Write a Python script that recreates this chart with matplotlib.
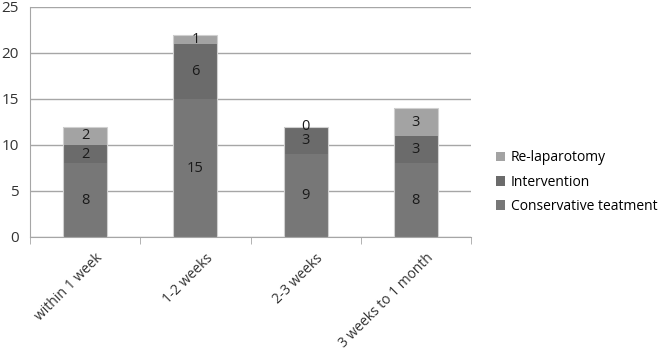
import numpy as np
import matplotlib.pyplot as plt
import matplotlib.transforms as mtransforms

categories = ['within 1 week', '1-2 weeks', '2-3 weeks', '3 weeks to 1 month']
conservative = [8, 15, 9, 8]
intervention = [2, 6, 3, 3]
relaparotomy = [2, 1, 0, 3]

plt.rcParams['font.family'] = ['Open Sans', 'DejaVu Sans']

fig = plt.figure(figsize=(6.66, 3.59), dpi=100)
ax = fig.add_axes([30 / 666, 1 - 237 / 359, 441 / 666, 230 / 359])

x = np.arange(len(categories))
w = 0.4
b1 = ax.bar(x, conservative, w, color='#777777', linewidth=0,
            label='Conservative teatment', zorder=3)
b2 = ax.bar(x, intervention, w, bottom=conservative, color='#6b6b6b',
            linewidth=0, label='Intervention', zorder=3)
bottom2 = np.array(conservative) + np.array(intervention)
b3 = ax.bar(x, relaparotomy, w, bottom=bottom2, color='#a3a3a3',
            linewidth=0, label='Re-laparotomy', zorder=3)
# faint outline round each whole bar
ax.bar(x, bottom2 + np.array(relaparotomy), w, fill=False, edgecolor='#d0d0d0',
       linewidth=0.8, zorder=3.5)

# value labels in the middle of each segment
bottoms = [np.zeros(len(x)), np.array(conservative), bottom2]
for vals, bot in zip([conservative, intervention, relaparotomy], bottoms):
    for xi, v, b in zip(x, vals, bot):
        ax.text(xi, b + v / 2, str(v), ha='center', va='center', fontsize=10.5,
                color='#1a1a1a', zorder=4)

ax.set_xlim(-0.5, len(x) - 0.5)
ax.set_ylim(0, 25)
ax.set_yticks([0, 5, 10, 15, 20, 25])
ax.grid(axis='y', color='#a6a6a6', linewidth=1, zorder=0)
for s in ['top', 'right']:
    ax.spines[s].set_visible(False)
ax.spines['left'].set_color('#a6a6a6')
ax.spines['bottom'].set_color('#a6a6a6')

ax.set_xticks(x)
ax.set_xticklabels(categories, rotation=45, ha='right', rotation_mode='anchor',
                   fontsize=10, color='#333333')
ax.tick_params(axis='x', length=0, pad=10)
shift = mtransforms.ScaledTranslation(10 / 100, 0, fig.dpi_scale_trans)
for lbl in ax.get_xticklabels():
    lbl.set_transform(lbl.get_transform() + shift)
ax.set_xticks(np.arange(len(x) + 1) - 0.5, minor=True)
ax.tick_params(axis='x', which='minor', length=5, color='#a6a6a6')
ax.tick_params(axis='y', length=0, labelsize=11, labelcolor='#333333', pad=8)

handles = [b3, b2, b1]
fig.legend(handles, [h.get_label() for h in handles], loc='center left',
           bbox_to_anchor=(483 / 666, 1 - 182 / 359), frameon=False, fontsize=10,
           handlelength=0.7, handleheight=0.7, handletextpad=0.4, labelspacing=0.65)

fig.savefig('out.png', dpi=100)
